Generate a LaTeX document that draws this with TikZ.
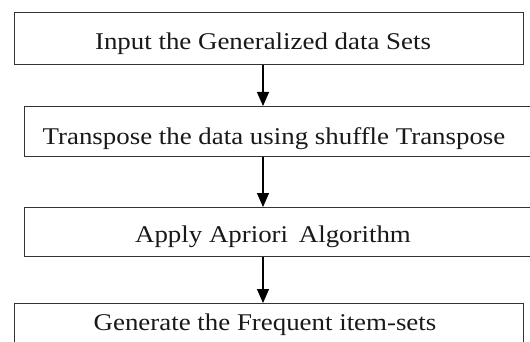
\documentclass[tikz,border=0pt]{standalone}
\usepackage{fontspec}
\setmainfont[FakeStretch=1.12]{Liberation Serif}
\usetikzlibrary{arrows.meta}
\begin{document}
\begin{tikzpicture}[x=1pt,y=-1pt,
  stepbox/.style={draw=black!80,line width=1.3pt,rectangle,inner sep=0pt,anchor=north west},
  steptext/.style={anchor=base,inner sep=0pt,font=\fontsize{24}{28}\selectfont,text=black!90},
  flow/.style={draw=black,line width=1.2pt,-{Triangle[length=14pt,width=12pt]}}]
  \useasboundingbox (0,0) rectangle (530,342);
  \clip (0,0) rectangle (530,342);
  \fill[white] (0,0) rectangle (530,342);
  % the four process boxes
  \node[stepbox,minimum width=509pt,minimum height=52pt] (b1) at (14,12) {};
  \node[stepbox,minimum width=530pt,minimum height=50pt] (b2) at (24,106) {};
  \node[stepbox,minimum width=530pt,minimum height=49pt] (b3) at (24,207) {};
  \node[stepbox,minimum width=509pt,minimum height=60pt] (b4) at (14,303) {};
  % their captions
  \node[steptext] (t1) at (263,50) {Input the Generalized data Sets};
  \node[steptext] (t2) at (274,145) {Transpose the data using shuffle Transpose};
  \node[steptext] (t3) at (273,242) {Apply Apriori\, Algorithm};
  \node[steptext] (t4) at (265,330) {Generate the Frequent item-sets};
  % flow arrows between the boxes
  \coordinate (a1) at (263,0);
  \draw[flow] (b1.south -| a1) -- (b2.north -| a1);
  \draw[flow] (b2.south -| a1) -- (b3.north -| a1);
  \draw[flow] (b3.south -| a1) -- (b4.north -| a1);
\end{tikzpicture}
\end{document}
